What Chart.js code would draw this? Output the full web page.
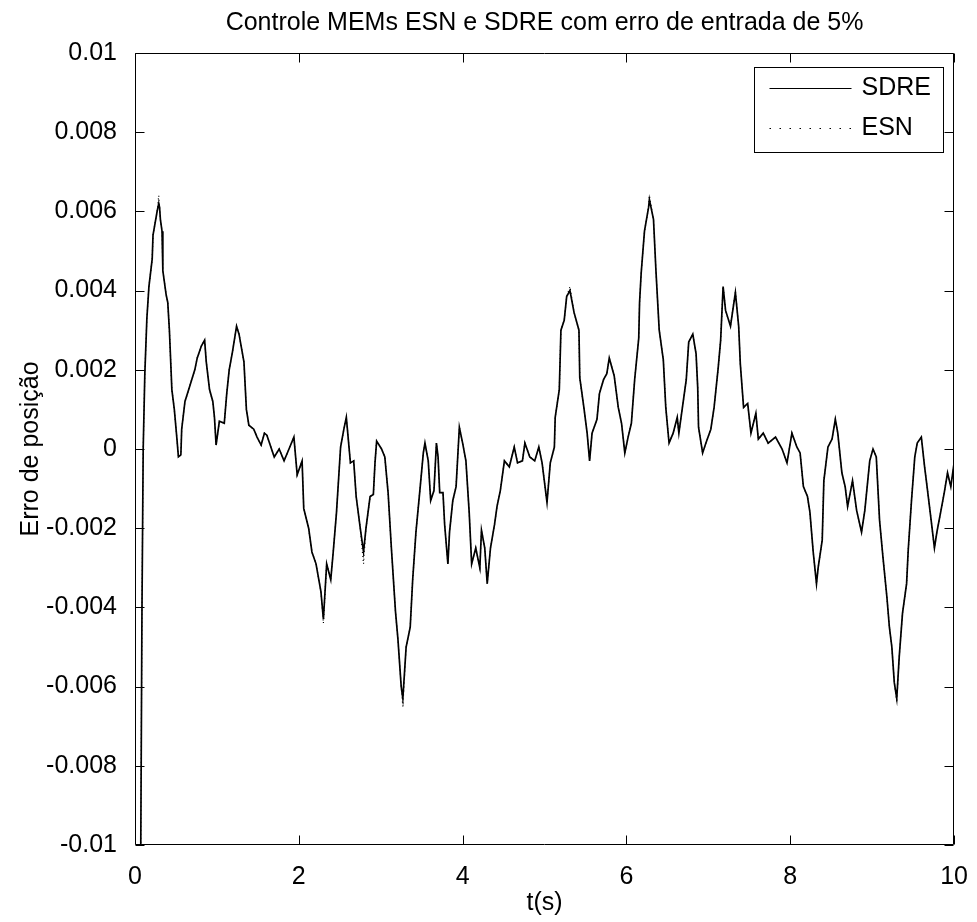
<!DOCTYPE html>
<html lang="pt">
<head>
<meta charset="utf-8">
<title>Controle MEMs ESN e SDRE</title>
<script src="https://cdn.jsdelivr.net/npm/chart.js@4.4.1/dist/chart.umd.min.js"></script>
<style>
  html, body { margin: 0; padding: 0; background: #fff; }
  #grafico { display: block; }
</style>
</head>
<body>
<canvas id="grafico" width="977" height="922"></canvas>
<script>
// tempo (s)
const tempo = [
  0, 0.07, 0.085, 0.10, 0.12, 0.145, 0.17, 0.21, 0.22, 0.27,
  0.29, 0.30, 0.31, 0.33, 0.34, 0.38, 0.40, 0.42, 0.45, 0.48,
  0.51, 0.53, 0.56, 0.57, 0.61, 0.67, 0.73, 0.76, 0.81, 0.85,
  0.87, 0.91, 0.95, 0.97, 0.99, 1.03, 1.09, 1.12, 1.15, 1.19,
  1.24, 1.27, 1.33, 1.36, 1.39, 1.45, 1.49, 1.54, 1.58, 1.61,
  1.70, 1.76, 1.82, 1.88, 1.94, 1.98, 2.04, 2.06, 2.12, 2.16,
  2.21, 2.27, 2.30, 2.34, 2.39, 2.42, 2.46, 2.51, 2.55, 2.58,
  2.63, 2.67, 2.70, 2.75, 2.79, 2.82, 2.87, 2.91, 2.93, 2.95,
  3.01, 3.05, 3.09, 3.13, 3.18, 3.21, 3.25, 3.27, 3.31, 3.36,
  3.39, 3.43, 3.48, 3.52, 3.54, 3.58, 3.61, 3.65, 3.68, 3.70,
  3.72, 3.76, 3.78, 3.82, 3.84, 3.88, 3.92, 3.96, 4.00, 4.04,
  4.08, 4.11, 4.16, 4.21, 4.23, 4.27, 4.30, 4.34, 4.39, 4.42,
  4.46, 4.51, 4.57, 4.63, 4.67, 4.73, 4.76, 4.82, 4.88, 4.93,
  4.97, 5.03, 5.07, 5.12, 5.13, 5.18, 5.20, 5.24, 5.27, 5.31,
  5.36, 5.42, 5.43, 5.48, 5.52, 5.55, 5.58, 5.64, 5.67, 5.72,
  5.76, 5.79, 5.85, 5.90, 5.94, 5.98, 6.02, 6.06, 6.10, 6.15,
  6.16, 6.18, 6.22, 6.27, 6.28, 6.33, 6.36, 6.40, 6.45, 6.48,
  6.52, 6.57, 6.62, 6.64, 6.69, 6.73, 6.76, 6.81, 6.85, 6.87,
  6.88, 6.93, 6.97, 7.03, 7.07, 7.12, 7.15, 7.18, 7.21, 7.27,
  7.33, 7.37, 7.39, 7.43, 7.48, 7.52, 7.58, 7.61, 7.67, 7.73,
  7.82, 7.90, 7.96, 8.02, 8.08, 8.12, 8.16, 8.21, 8.24, 8.28,
  8.32, 8.34, 8.39, 8.41, 8.46, 8.51, 8.55, 8.58, 8.63, 8.67,
  8.70, 8.76, 8.81, 8.87, 8.91, 8.97, 9.01, 9.05, 9.09, 9.13,
  9.18, 9.21, 9.24, 9.27, 9.30, 9.33, 9.37, 9.42, 9.44, 9.48,
  9.52, 9.55, 9.60, 9.64, 9.67, 9.72, 9.76, 9.79, 9.84, 9.88,
  9.92, 9.96, 10.0
];

// erro de posição - controle SDRE
const sdre = [
  -0.0102, -0.0102, -0.0041, 0, 0.0019, 0.0033, 0.0041, 0.0048, 0.0054, 0.006,
  0.0062, 0.0061, 0.0058, 0.0055, 0.0045, 0.0039, 0.0037, 0.003, 0.0015, 0.001,
  0.0003, -0.0002, -0.00015, 0.0005, 0.0012, 0.0016, 0.002, 0.0023, 0.0026, 0.00275,
  0.0022, 0.0015, 0.0012, 0.0008, 0.0001, 0.0007, 0.00065, 0.0014, 0.002, 0.00245,
  0.0031, 0.0029, 0.0022, 0.001, 0.0006, 0.0005, 0.0003, 0.0001, 0.0004, 0.00035,
  -0.0002, 0, -0.0003, 0, 0.0003, -0.00065, -0.0003, -0.0015, -0.002, -0.0026,
  -0.0029, -0.0036, -0.0043, -0.0029, -0.0033, -0.0026, -0.0016, 0.00005, 0.0005, 0.0008,
  -0.00035, -0.0003, -0.0012, -0.002, -0.0026, -0.002, -0.0012, -0.00115, -0.00035, 0.0002,
  0, -0.0002, -0.0011, -0.0025, -0.0041, -0.0048, -0.006, -0.0063, -0.005, -0.0045,
  -0.0033, -0.0021, -0.001, -0.0001, 0.00015, -0.0003, -0.0013, -0.00105, 0.00015, -0.0002,
  -0.0011, -0.0011, -0.0019, -0.0029, -0.0021, -0.0013, -0.00095, 0.00055, 0.00015, -0.0003,
  -0.0016, -0.0029, -0.0025, -0.003, -0.00205, -0.0025, -0.0034, -0.0025, -0.0019, -0.00145,
  -0.00105, -0.0003, -0.00045, 0.00005, -0.00035, -0.0003, 0.00015, -0.0002, -0.0003, 0.00005,
  -0.00035, -0.00135, -0.00035, 0.00005, 0.0008, 0.0015, 0.003, 0.00325, 0.00385, 0.004,
  0.00345, 0.003, 0.0018, 0.00105, 0.0004, -0.0003, 0.0004, 0.00075, 0.0014, 0.00175,
  0.0019, 0.0023, 0.00185, 0.00105, 0.00065, -0.0001, 0.0003, 0.00065, 0.00175, 0.0028,
  0.0037, 0.00445, 0.0055, 0.0061, 0.0063, 0.0058, 0.0045, 0.003, 0.00225, 0.00105,
  0.00015, 0.0004, 0.0008, 0.0004, 0.00115, 0.00175, 0.0027, 0.0029, 0.0024, 0.00155,
  0.00055, -0.0001, 0.00015, 0.0005, 0.00105, 0.00205, 0.00275, 0.0041, 0.0035, 0.0031,
  0.00395, 0.0031, 0.00215, 0.00105, 0.00115, 0.0004, 0.0009, 0.00025, 0.0004, 0.00015,
  0.0003, 0, -0.00035, 0.0004, 0.00005, -0.0001, -0.00095, -0.0012, -0.0016, -0.0026,
  -0.0034, -0.003, -0.0023, -0.0008, 0.00005, 0.00025, 0.00075, 0.0004, -0.0006, -0.00095,
  -0.00145, -0.0008, -0.00155, -0.0021, -0.00155, -0.0003, 0, -0.0002, -0.0018, -0.0027,
  -0.00375, -0.0045, -0.005, -0.0059, -0.0063, -0.00525, -0.00415, -0.0034, -0.00255, -0.0013,
  -0.0002, 0.00015, 0.0003, -0.00045, -0.00095, -0.0018, -0.0025, -0.0021, -0.00155, -0.0011,
  -0.0006, -0.00095, -0.00035
];

// erro de posição - controle ESN
const esn = [
  -0.0102, -0.0102, -0.0041, 0, 0.0019, 0.0033, 0.0041, 0.0048, 0.0054, 0.006,
  0.0064, 0.0061, 0.0058, 0.0055, 0.0045, 0.0039, 0.0037, 0.003, 0.0015, 0.001,
  0.0003, -0.0002, -0.00015, 0.0005, 0.0012, 0.0016, 0.002, 0.0023, 0.0026, 0.00275,
  0.0022, 0.0015, 0.0012, 0.0008, 0.0001, 0.0007, 0.00065, 0.0014, 0.002, 0.00245,
  0.0031, 0.0029, 0.0022, 0.001, 0.0006, 0.0005, 0.0003, 0.0001, 0.0004, 0.00035,
  -0.0002, 0, -0.0003, 0, 0.0003, -0.00065, -0.0003, -0.0015, -0.002, -0.0026,
  -0.0029, -0.0036, -0.0044, -0.0029, -0.0033, -0.0026, -0.0016, 0.00005, 0.0005, 0.0008,
  -0.00035, -0.0003, -0.0012, -0.002, -0.0029, -0.002, -0.0012, -0.00115, -0.00035, 0.0002,
  0, -0.0002, -0.0011, -0.0025, -0.0041, -0.0048, -0.006, -0.0065, -0.005, -0.0045,
  -0.0033, -0.0021, -0.001, -0.0001, 0.00015, -0.0003, -0.0013, -0.00105, 0.00015, -0.0002,
  -0.0011, -0.0011, -0.0019, -0.0029, -0.0021, -0.0013, -0.00095, 0.00055, 0.00015, -0.0003,
  -0.0016, -0.0029, -0.0025, -0.003, -0.00205, -0.0025, -0.0034, -0.0025, -0.0019, -0.00145,
  -0.00105, -0.0003, -0.00045, 0.00005, -0.00035, -0.0003, 0.00015, -0.0002, -0.0003, 0.00005,
  -0.00035, -0.00135, -0.00035, 0.00005, 0.0008, 0.0015, 0.003, 0.00325, 0.00385, 0.0041,
  0.00345, 0.003, 0.0018, 0.00105, 0.0004, -0.0003, 0.0004, 0.00075, 0.0014, 0.00175,
  0.0019, 0.0023, 0.00185, 0.00105, 0.00065, -0.0001, 0.0003, 0.00065, 0.00175, 0.0028,
  0.0037, 0.00445, 0.0055, 0.0061, 0.0064, 0.0058, 0.0045, 0.003, 0.00225, 0.00105,
  0.00015, 0.0004, 0.0008, 0.0004, 0.00115, 0.00175, 0.0027, 0.0029, 0.0024, 0.00155,
  0.00055, -0.0001, 0.00015, 0.0005, 0.00105, 0.00205, 0.00275, 0.0041, 0.0035, 0.0031,
  0.004, 0.0031, 0.00215, 0.00105, 0.00115, 0.0004, 0.0009, 0.00025, 0.0004, 0.00015,
  0.0003, 0, -0.00035, 0.0004, 0.00005, -0.0001, -0.00095, -0.0012, -0.0016, -0.0026,
  -0.0034, -0.003, -0.0023, -0.0008, 0.00005, 0.00025, 0.00075, 0.0004, -0.0006, -0.00095,
  -0.00145, -0.0008, -0.00155, -0.0021, -0.00155, -0.0003, 0, -0.0002, -0.0018, -0.0027,
  -0.00375, -0.0045, -0.005, -0.0059, -0.0064, -0.00525, -0.00415, -0.0034, -0.00255, -0.0013,
  -0.0002, 0.00015, 0.0003, -0.00045, -0.00095, -0.0018, -0.0025, -0.0021, -0.00155, -0.0011,
  -0.0006, -0.00095, -0.00035
];

const nomes = ['SDRE', 'ESN'];
const ticksX = [0, 2, 4, 6, 8, 10];
const ticksY = [-0.01, -0.008, -0.006, -0.004, -0.002, 0, 0.002, 0.004, 0.006, 0.008, 0.01];
const rotulosY = ['-0.01', '-0.008', '-0.006', '-0.004', '-0.002', '0', '0.002', '0.004', '0.006', '0.008', '0.01'];

Chart.defaults.font.family = "'Liberation Sans', Arial, sans-serif";
Chart.defaults.font.size = 25;
Chart.defaults.color = '#000';

function pontos(valores) {
  return tempo.map((t, i) => ({ x: t, y: valores[i] }));
}

// caixa em volta do gráfico, marcas para dentro e legenda no canto
const moldura = {
  id: 'moldura',
  afterDatasetsDraw(chart) {
    const { ctx, chartArea: a, scales: { x, y } } = chart;
    const esq = Math.round(a.left) + 0.5;
    const dir = Math.round(a.right) - 0.5;
    const topo = Math.round(a.top) + 0.5;
    const base = Math.round(a.bottom) - 0.5;
    const tam = 9;
    ctx.save();
    ctx.strokeStyle = '#000';
    ctx.lineWidth = 1;
    ctx.setLineDash([]);
    ctx.beginPath();
    ctx.rect(esq, topo, dir - esq, base - topo);
    x.ticks.forEach(t => {
      const px = Math.round(x.getPixelForValue(t.value)) + 0.5;
      ctx.moveTo(px, base); ctx.lineTo(px, base - tam);
      ctx.moveTo(px, topo); ctx.lineTo(px, topo + tam);
    });
    y.ticks.forEach(t => {
      const py = Math.round(y.getPixelForValue(t.value)) + 0.5;
      ctx.moveTo(esq, py); ctx.lineTo(esq + tam, py);
      ctx.moveTo(dir, py); ctx.lineTo(dir - tam, py);
    });
    ctx.stroke();

    // legenda
    const lx = Math.round(a.right) - 200 + 0.5;
    const ly = Math.round(a.top) + 14 + 0.5;
    ctx.fillStyle = '#fff';
    ctx.fillRect(lx, ly, 189, 85);
    ctx.strokeRect(lx, ly, 189, 85);
    ctx.font = "25px 'Liberation Sans', Arial, sans-serif";
    ctx.fillStyle = '#000';
    ctx.textBaseline = 'middle';
    chart.data.datasets.forEach((ds, i) => {
      const cy = ly + 21 + i * 40;
      ctx.beginPath();
      ctx.lineWidth = 1.2;
      ctx.setLineDash(i === 0 ? [] : [1.5, 8.5]);
      ctx.moveTo(lx + 15, cy);
      ctx.lineTo(lx + 97, cy);
      ctx.stroke();
      ctx.fillText(ds.label, lx + 107, cy);
    });
    ctx.restore();
  }
};

new Chart(document.getElementById('grafico'), {
  type: 'line',
  data: {
    datasets: [
      { label: nomes[0], data: pontos(sdre), borderColor: '#000', borderWidth: 1.7 },
      { label: nomes[1], data: pontos(esn), borderColor: '#000', borderWidth: 1.2, borderDash: [1, 3] }
    ]
  },
  options: {
    responsive: false,
    animation: false,
    layout: { padding: { left: 0, right: 17, top: 0, bottom: 0 } },
    elements: { point: { radius: 0 }, line: { tension: 0 } },
    plugins: {
      legend: { display: false },
      tooltip: { enabled: false },
      title: { display: false }
    },
    scales: {
      // eixo superior só para centrar o título sobre a área do gráfico
      topo: {
        type: 'linear',
        position: 'top',
        min: 0,
        max: 10,
        grid: { display: false },
        border: { display: false },
        ticks: { display: false },
        title: {
          display: true,
          text: 'Controle MEMs ESN e SDRE com erro de entrada de 5%',
          padding: { top: 8, bottom: 0 }
        },
        afterFit: s => { s.height = 53; }
      },
      x: {
        type: 'linear',
        position: 'bottom',
        min: 0,
        max: 10,
        grid: { display: false },
        border: { display: false },
        afterBuildTicks: s => { s.ticks = ticksX.map(v => ({ value: v })); },
        ticks: { padding: 9, maxRotation: 0, autoSkip: false },
        title: { display: true, text: 't(s)', padding: { top: 4, bottom: 4 } },
        afterFit: s => { s.height = 77; }
      },
      y: {
        min: -0.01,
        max: 0.01,
        grid: { display: false },
        border: { display: false },
        afterBuildTicks: s => { s.ticks = ticksY.map(v => ({ value: v })); },
        ticks: {
          padding: 10,
          autoSkip: false,
          callback: v => rotulosY[ticksY.indexOf(v)]
        },
        title: { display: true, text: 'Erro de posição', padding: { top: 16, bottom: 16 } },
        afterFit: s => { s.width = 135; }
      }
    }
  },
  plugins: [moldura]
});
</script>
</body>
</html>
